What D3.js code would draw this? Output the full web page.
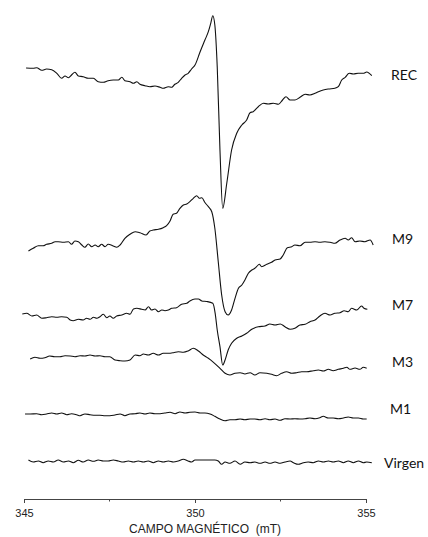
<!DOCTYPE html>
<html>
<head>
<meta charset="utf-8">
<script src="https://cdn.jsdelivr.net/npm/d3@7"></script>
<style>
  html, body { margin: 0; padding: 0; background: #fff; }
  svg { display: block; }
</style>
</head>
<body>
<svg id="chart" width="428" height="537"></svg>
<script>
// EPR spectra (first derivative), stacked by sample. Field in mT, signal in a.u.
const seriesNames = ["REC", "M9", "M7", "M3", "M1", "Virgen"];

const recField = [345.06,345.27,345.37,345.52,345.66,345.81,345.96,346.10,346.20,346.30,346.39,346.49,346.59,346.73,346.88,347.03,347.17,347.32,347.46,347.61,347.76,347.86,347.95,348.10,348.20,348.30,348.39,348.54,348.68,348.83,348.98,349.07,349.22,349.32,349.41,349.51,349.61,349.71,349.80,349.90,350.00,
  350.15,350.29,350.39,350.46,350.52,350.58,350.65,350.73,350.81,350.93,
  351.07,351.22,351.37,351.51,351.61,351.70,351.85,352.00,352.14,352.29,352.44,352.56,352.66,352.78,352.92,353.07,353.22,353.36,353.51,353.61,353.75,353.90,354.09,354.19,354.29,354.39,354.51,354.63,354.77,354.92,355.02,355.17];
const recSignal = [0,-0.3,0.3,-2.3,-1,-1.7,-5.3,-10.3,-8,-9.7,-7,-4.3,-8,-8.7,-10.3,-10.3,-13.7,-14.3,-12.7,-12,-12,-9.3,-12.7,-13.7,-15.3,-13.7,-16.3,-17.7,-18.7,-18,-19.3,-20.3,-18.7,-19.3,-16.3,-14.3,-10.3,-7,-5.3,-1,3,
  16.3,28,36.3,44.7,52.3,43,1.3,-82,-140.3,-115,
  -82,-65.3,-57,-52,-44.7,-43.7,-38.7,-35.3,-36,-35.3,-36.3,-32,-28.7,-32,-32,-29.3,-26.3,-27,-25.3,-23.7,-22,-21,-20.3,-18.7,-12,-9.3,-5.3,-6,-5.3,-5.3,-4,-7.7];

const m9Field = [345.13,345.27,345.42,345.56,345.66,345.81,345.91,346.00,346.15,346.30,
  346.39,346.49,346.59,346.69,346.78,346.88,346.98,347.08,347.17,347.27,
  347.37,347.46,347.61,347.71,347.81,347.95,348.10,348.25,348.39,348.57,
  348.68,348.78,348.93,349.07,349.17,349.27,349.36,349.46,349.56,349.66,
  349.76,349.85,349.95,350.05,350.13,350.20,350.29,350.39,350.49,350.58,
  350.68,350.78,350.88,350.97,351.07,351.17,351.27,351.37,351.46,351.56,
  351.66,351.75,351.80,351.88,351.95,352.10,352.24,352.34,352.49,352.58,
  352.70,352.83,352.92,353.07,353.22,353.36,353.51,353.65,353.80,353.95,
  354.09,354.24,354.39,354.48,354.58,354.68,354.82,354.97,355.12,355.21];
const m9Signal = [0,2.7,5.3,5.3,6.7,7.7,9.3,9.3,8.7,9.3,
  6.7,10,9.3,6,3.7,7,4.3,6,4.3,6.7,
  4.3,6.7,5,3.7,6,12.7,16.7,19.3,18.3,16,
  20,21,21.7,23.3,25.3,30,36.7,37.7,42.7,46,
  47,49.3,52.7,55.3,52.7,53.3,48.5,44.3,39.3,22.7,
  -10.7,-44,-60.7,-64,-59,-47.3,-37.3,-34,-29,-22.3,
  -19,-17.3,-15.7,-13.3,-15.7,-13.3,-11.3,-9,-8,-4,
  3.3,4.3,6,5.3,8.7,8.7,9.3,8.7,9.3,8.7,
  7.7,11,12.7,11,13.3,9.3,10,9.3,11,6];

const m7Field = [344.95,345.08,345.23,345.37,345.52,345.66,345.81,345.96,346.10,346.25,
  346.35,346.44,346.59,346.73,346.83,346.93,347.03,347.13,347.22,347.32,
  347.42,347.51,347.61,347.71,347.86,348.00,348.10,348.20,348.30,348.44,
  348.54,348.64,348.73,348.83,348.93,349.03,349.12,349.22,349.32,349.46,
  349.61,349.76,349.85,350.00,350.10,350.20,350.34,350.52,350.59,350.65,
  350.73,350.81,350.88,350.97,351.07,351.22,351.37,351.51,351.66,351.85,
  352.05,352.19,352.34,352.49,352.63,352.78,352.92,353.07,353.22,353.36,
  353.51,353.65,353.80,353.95,354.09,354.24,354.36,354.48,354.58,354.73,
  354.87,354.94,355.04];
const m7Signal = [0,0.7,-2,-1,-4.3,-3.7,-2.7,-3.3,-2.7,-3.3,
  -6,-6.7,-5.3,-6,-4.3,-5.3,-3.3,-4.3,-2.7,-0.3,
  -3.7,-2,-4.3,-2,-1,0.7,-0.3,5,5.7,4.7,
  4,7.3,4,5,2.3,4,3.3,4,5.7,6.3,
  9.7,10.7,13,15,15,13,12.5,10.7,0.7,-16,
  -32.7,-51,-46,-36,-29.3,-24.3,-22,-19.3,-15.3,-12.7,
  -12,-10,-11,-10,-12.7,-15.3,-14.3,-11,-10.3,-7.7,
  -6,-2,0.7,-1,0.7,1.3,3.3,2.3,5.7,4,
  8,5.7,4.7];

const m3Field = [345.18,345.32,345.47,345.61,345.75,345.90,346.05,346.20,346.35,346.49,
  346.64,346.78,346.93,347.08,347.22,347.37,347.51,347.66,347.81,347.95,
  348.10,348.25,348.39,348.49,348.63,348.78,348.93,349.07,349.22,349.37,
  349.51,349.66,349.80,349.95,350.10,350.24,350.39,350.54,350.73,350.88,
  351.02,351.17,351.32,351.46,351.61,351.75,351.90,352.10,352.24,352.39,
  352.53,352.68,352.83,352.97,353.12,353.27,353.46,353.61,353.75,353.90,
  354.04,354.19,354.34,354.44,354.53,354.68,354.82,354.92,355.02];
const m3Signal = [0,1.7,0.7,1.3,3,2.3,2.3,3.3,3,2.3,
  3.3,3,4,3,3.3,2.3,2.3,-1,-1.7,-2,
  -1,4,3.3,5,4,5.7,4,5.7,5.7,6.3,
  7.3,6.7,8,10.7,8,4,0.7,-3.3,-9.3,-14.3,
  -16,-14.3,-13.7,-15,-13.7,-16,-13.7,-14.3,-15.3,-16.7,
  -14.3,-12.7,-14.3,-13.7,-12.7,-12.7,-11.7,-11,-12,-10.3,
  -11.7,-10.3,-9.3,-8.3,-10.3,-9,-10.3,-8.3,-9.3];

const m1Field = [345.03,345.18,345.37,345.52,345.66,345.81,345.96,346.10,346.25,346.39,
  346.54,346.64,346.78,346.93,347.08,347.22,347.37,347.51,347.66,347.81,
  347.95,348.10,348.25,348.39,348.54,348.68,348.83,348.98,349.12,349.27,
  349.42,349.56,349.71,349.85,350.00,350.15,350.29,350.44,350.58,350.73,
  350.88,351.02,351.17,351.32,351.46,351.61,351.75,351.90,352.05,352.19,
  352.34,352.49,352.63,352.78,352.92,353.07,353.22,353.36,353.51,353.65,
  353.75,353.90,354.04,354.19,354.34,354.48,354.63,354.78,354.92,355.02];
const m1Signal = [0,0,0.3,-0.7,0,1,0,1,-0.7,0.3,
  -0.7,-1.7,0,-0.7,-1.3,-1.3,-1.7,-1.7,-1,0,
  -1.7,0,0.3,1,0,1,0.3,0.3,1,1.7,
  0.3,2,1,1.7,2,1,1,0,-2.3,-5,
  -6.7,-5.7,-5.7,-5,-5.7,-5,-5,-5.7,-4.7,-5.7,
  -5,-6.3,-4.7,-5,-4.7,-5,-4.7,-4,-4.7,-3.7,
  -2.3,-4,-4,-4.7,-4,-3,-4,-4,-5,-5];

const virgenField = [345.13,345.27,345.42,345.56,345.71,345.86,346.00,346.15,346.30,346.44,
  346.59,346.73,346.88,347.03,347.17,347.32,347.46,347.61,347.76,347.90,
  348.05,348.20,348.34,348.49,348.63,348.78,348.93,349.07,349.22,349.37,
  349.51,349.66,349.80,349.90,350.00,350.15,350.29,350.44,350.58,350.68,
  350.78,350.88,351.02,351.17,351.32,351.46,351.61,351.75,351.90,352.05,
  352.19,352.34,352.49,352.63,352.78,352.88,353.02,353.17,353.31,353.46,
  353.61,353.75,353.90,354.04,354.19,354.34,354.48,354.63,354.78,354.92,
  355.02,355.17];
const virgenSignal = [0,-2,-1,-2.7,-1,-2,0,-2,-1,-2.7,
  -0.3,-2,0,-1.3,0,-1,-1,0,-1,-2,
  -1,-2,-1,-2,-1,-2.7,-1,-2,-1,-2,
  -1,0.7,-1,-2,0,0,0,0,0,-1,
  -4.3,-2,-3.3,-1,-4.3,-2,-2.7,-2,-3.3,-2,
  -3.3,-2,-3.3,-2,-1,-2.7,-4.3,-2.7,-2,-2.7,
  -1,-2,-1,-2,-1,-2.7,-1,-2.7,-1,-2.7,
  -2,-2.7];

// Vertical stacking offset of each spectrum (a.u.)
const seriesOffsets = [412, 229, 166, 121, 66, 20];

const axisTicks = [345, 350, 355];
const minorTicks = [347.5, 352.5];
const axisTitle = "CAMPO MAGNÉTICO  (mT)";

const fieldArrays = [recField, m9Field, m7Field, m3Field, m1Field, virgenField];
const signalArrays = [recSignal, m9Signal, m7Signal, m3Signal, m1Signal, virgenSignal];

// Layout
const labelLayout = [
  { x: 391, y: 80 },
  { x: 392, y: 244 },
  { x: 392, y: 310 },
  { x: 392, y: 367 },
  { x: 390, y: 414 },
  { x: 384, y: 468 }
];

const svg = d3.select("#chart");
svg.append("rect").attr("width", 428).attr("height", 537).attr("fill", "#fff");

const x = d3.scaleLinear().domain([345, 355]).range([24, 366]);
const y = d3.scaleLinear().domain([0, 480]).range([480, 0]);

const line = d3.line()
  .x(d => x(d[0]))
  .y(d => y(d[1]))
  .curve(d3.curveMonotoneX);

const spectra = seriesNames.map((name, i) => ({
  name,
  points: d3.zip(fieldArrays[i], signalArrays[i]).map(([f, s]) => [f, s + seriesOffsets[i]])
}));

svg.append("g")
  .selectAll("path")
  .data(spectra)
  .join("path")
  .attr("d", d => line(d.points))
  .attr("fill", "none")
  .attr("stroke", "#111")
  .attr("stroke-width", 1.1)
  .attr("stroke-linejoin", "round");

svg.append("g")
  .selectAll("text")
  .data(spectra)
  .join("text")
  .attr("x", (d, i) => labelLayout[i].x)
  .attr("y", (d, i) => labelLayout[i].y)
  .attr("font-family", "Lato, 'Open Sans', sans-serif")
  .attr("font-size", 14)
  .attr("fill", "#111")
  .text(d => d.name);

// Field axis
const axisG = svg.append("g")
  .attr("transform", "translate(0,499)")
  .call(d3.axisBottom(x)
    .tickValues(axisTicks)
    .tickSize(4)
    .tickSizeOuter(0)
    .tickPadding(6)
    .tickFormat(d3.format("d")));

axisG.select(".domain").attr("stroke", "#444").attr("stroke-width", 1);
axisG.selectAll(".tick line").attr("stroke", "#444");
axisG.selectAll(".tick text")
  .attr("font-family", "'Liberation Sans', Arial, sans-serif")
  .attr("font-size", 11)
  .attr("fill", "#222");

axisG.selectAll(".minor")
  .data(minorTicks)
  .join("line")
  .attr("class", "minor")
  .attr("x1", d => x(d)).attr("x2", d => x(d))
  .attr("y1", 0).attr("y2", 2.5)
  .attr("stroke", "#444");

svg.append("text")
  .attr("x", 205)
  .attr("y", 533)
  .attr("text-anchor", "middle")
  .attr("font-family", "'Liberation Sans', Arial, sans-serif")
  .attr("font-size", 12)
  .attr("fill", "#222")
  .style("white-space", "pre")
  .text(axisTitle);
</script>
</body>
</html>
